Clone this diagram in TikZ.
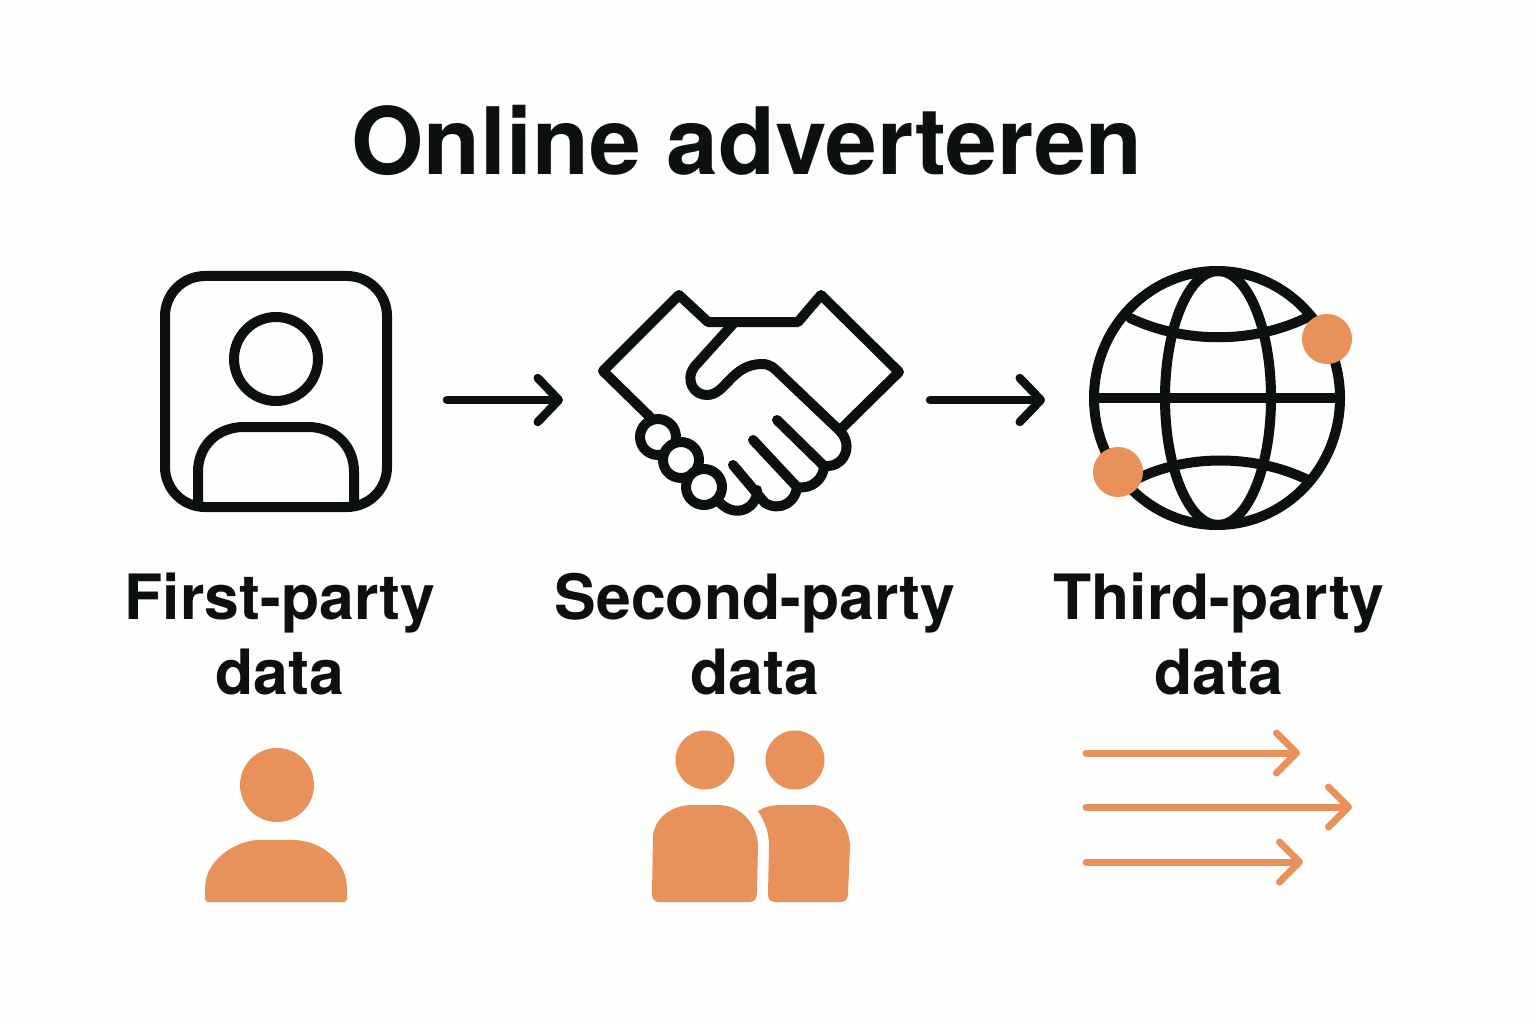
\documentclass[tikz,border=0pt]{standalone}
\usepackage{fontspec}
\setmainfont{TeX Gyre Heros}
\usepackage{xcolor}
\usetikzlibrary{arrows.meta}
\definecolor{inkblack}{HTML}{0C100F}
\definecolor{adorange}{HTML}{E8915B}
\definecolor{paperwhite}{HTML}{FEFEFC}
\tikzset{
	icon/.style={draw=inkblack,line width=10pt,line join=round,line cap=round},
	flow/.style={draw=inkblack,line width=8.5pt,line cap=round,line join=round,-{Straight Barb[length=21pt,width=44pt,round]}},
	orangeflow/.style={draw=adorange,line width=7pt,line cap=round,line join=round,-{Straight Barb[length=20pt,width=40pt,round]}},
	orangefill/.style={fill=adorange,draw=none},
	datalabel/.style={text=inkblack,align=center,font=\fontsize{62.5}{75}\selectfont\bfseries}
}
\begin{document}
\begin{tikzpicture}[x=1pt,y=-1pt]
	\useasboundingbox[fill=paperwhite] (0,0) rectangle (1536,1024);
	\node[text=inkblack,font=\fontsize{93}{96}\selectfont\bfseries] (title) at (747,140) {Online adverteren};

	% first-party icon
	\draw[icon,rounded corners=40pt] (165,276) rectangle (387,507);
	\draw[icon] (276,359) circle [radius=42];
	\draw[icon] (198,505) -- (198,472) .. controls (198,445) and (218,427) .. (244,427) -- (308,427) .. controls (334,427) and (354,445) .. (354,472) -- (354,505);

	% second-party icon
	\draw[icon] (650,417) -- (603,371) -- (679,295) -- (708,322) -- (798,322) -- (821,295) -- (899,372) -- (840,430);
	\draw[icon] (733,324) -- (695,366) .. controls (684,380) and (694,396) .. (708,395) .. controls (726,394) and (732,364) .. (762,364) .. controls (770,364) and (774,368) .. (778,372) -- (840,431) .. controls (854,446) and (844,468) .. (824,466) -- (777,420);
	\draw[icon] (824,466) .. controls (824,478) and (812,490) .. (797,487) -- (753,440);
	\draw[icon] (797,487) .. controls (796,502) and (780,512) .. (765,503) -- (733,465);
	\draw[icon] (757,490) .. controls (758,506) and (738,520) .. (720,503);
	\draw[icon,fill=paperwhite] (658,437) circle [radius=18];
	\draw[icon,fill=paperwhite] (681,460) circle [radius=18];
	\draw[icon,fill=paperwhite] (704,487) circle [radius=18];

	% third-party icon
	\draw[icon] (1217,398) ellipse [x radius=123,y radius=127];
	\draw[icon] (1218,398) ellipse [x radius=53,y radius=127];
	\draw[icon] (1095,398) -- (1340,398);
	\draw[icon] (1130,318) .. controls (1185,344) and (1255,344) .. (1310,316);
	\draw[icon] (1135,480) .. controls (1185,454) and (1255,454) .. (1308,480);
	\fill[orangefill] (1327,339) circle [radius=25];
	\fill[orangefill] (1118,472) circle [radius=25];

	% arrows between the icons
	\coordinate (a1) at (447,400);
	\coordinate (a2) at (563,400);
	\coordinate (b1) at (930,400);
	\coordinate (b2) at (1045,400);
	\draw[flow] (a1) -- (a2);
	\draw[flow] (b1) -- (b2);

	\node[datalabel] (first) at (280,634) {First-party\\data};
	\node[datalabel] (second) at (755,634) {Second-party\\data};
	\node[datalabel] (third) at (1219,634) {Third-party\\data};

	% orange figures
	\fill[orangefill] (277,785) circle [radius=37];
	\fill[orangefill,rounded corners=3pt] (205,902) -- (205,888) .. controls (207,858) and (238,840) .. (262,840) -- (290,840) .. controls (318,840) and (345,858) .. (347,888) -- (347,902) -- cycle;

	\fill[orangefill] (705,760) circle [radius=29.5];
	\fill[orangefill] (795,760) circle [radius=29.5];
	\fill[orangefill] (658,902) .. controls (654,902) and (652,898) .. (652,894) -- (653,836) .. controls (655,816) and (674,805) .. (692,805) -- (718,805) .. controls (742,805) and (757,825) .. (758,845) -- (757,892) .. controls (757,898) and (755,902) .. (750,902) -- cycle;
	\fill[orangefill] (758,811) .. controls (764,807) and (772,805) .. (782,805) -- (812,805) .. controls (834,805) and (849,824) .. (850,846) -- (848,894) .. controls (848,899) and (845,902) .. (841,902) -- (775,902) .. controls (770,902) and (768,899) .. (768,894) -- (769,846) .. controls (769,832) and (765,822) .. (758,811) -- cycle;

	\coordinate (c1) at (1086,753);
	\coordinate (c2) at (1300,753);
	\coordinate (d1) at (1086,807);
	\coordinate (d2) at (1352,807);
	\coordinate (e1) at (1086,862);
	\coordinate (e2) at (1303,862);
	\draw[orangeflow] (c1) -- (c2);
	\draw[orangeflow] (d1) -- (d2);
	\draw[orangeflow] (e1) -- (e2);
\end{tikzpicture}
\end{document}
